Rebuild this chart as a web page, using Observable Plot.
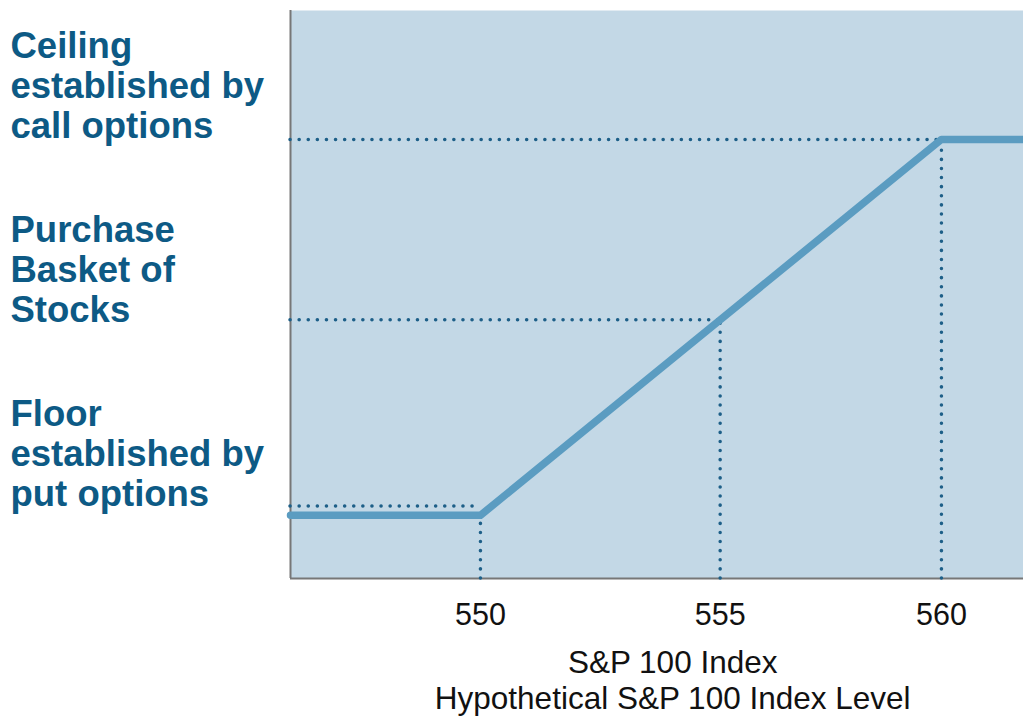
<!DOCTYPE html>
<html><head><meta charset="utf-8">
<script src="https://cdn.jsdelivr.net/npm/d3@7"></script>
<script src="https://cdn.jsdelivr.net/npm/@observablehq/plot@0.6"></script>
<style>body{margin:0;background:#fff}</style>
</head><body><div id="chart"></div>
<script>
// payoff line: index level -> portfolio level
var indexLevels = [545.88, 550, 555.2, 560, 561.78];
var payoff = [550, 550, 555.2, 560, 560];
// reference guides (floor, purchase, ceiling)
var guideX = [550, 555.2, 560];
var guideY = [550.25, 555.2, 560];
var ticks = [550, 555, 560];
var tickPos = [550, 555.2, 560];
var axisTitles = ["S&P 100 Index", "Hypothetical S&P 100 Index Level"];
var sideLabels = ["Ceiling\nestablished by\ncall options", "Purchase\nBasket of\nStocks", "Floor\nestablished by\nput options"];
var sideLabelY = [561.45, 556.55, 551.65];

var xMin = 545.88, xMax = 561.78, yMin = 548.32, yMax = 563.43;
var line = indexLevels.map((x, i) => ({x, y: payoff[i]}));
var guides = guideX.map((x, i) => ({x, y: guideY[i]}));

var plot = Plot.plot({
  width: 1023, height: 716,
  marginLeft: 290, marginRight: 0, marginTop: 10, marginBottom: 138,
  x: {domain: [xMin, xMax], axis: null},
  y: {domain: [yMin, yMax], axis: null},
  style: {fontFamily: "Liberation Sans, Arial, sans-serif", background: "white"},
  marks: [
    Plot.frame({fill: "#c3d8e6", stroke: null}),
    Plot.ruleX([xMin], {stroke: "#777", strokeWidth: 2}),
    Plot.ruleY([yMin], {stroke: "#777", strokeWidth: 2}),
    Plot.ruleY(guides, {y: "y", x1: xMin, x2: "x", stroke: "#1d5f88", strokeWidth: 3.5, strokeDasharray: "0.1,9", strokeLinecap: "round"}),
    Plot.ruleX(guides, {x: "x", y1: yMin, y2: "y", stroke: "#1d5f88", strokeWidth: 3.5, strokeDasharray: "0.1,9", strokeLinecap: "round"}),
    Plot.line(line, {x: "x", y: "y", stroke: "#5b9cc1", strokeWidth: 7.5}),
    Plot.text(ticks, {x: (d, i) => tickPos[i], y: yMin, dy: 37, text: d => String(d), fontSize: 30.5, fill: "#111"}),
    Plot.text([axisTitles[0]], {x: 554.17, y: yMin, dy: 84, text: d => d, fontSize: 31.5, fill: "#111"}),
    Plot.text([axisTitles[1]], {x: 554.17, y: yMin, dy: 120, text: d => d, fontSize: 31.5, fill: "#111"}),
    Plot.text(sideLabels, {x: xMin, y: (d, i) => sideLabelY[i], dx: -280, textAnchor: "start", text: d => d, fontSize: 36.5, fontWeight: "bold", lineHeight: 1.1, fill: "#0d5a85"})
  ]
});
document.getElementById("chart").append(plot);
</script></body></html>
